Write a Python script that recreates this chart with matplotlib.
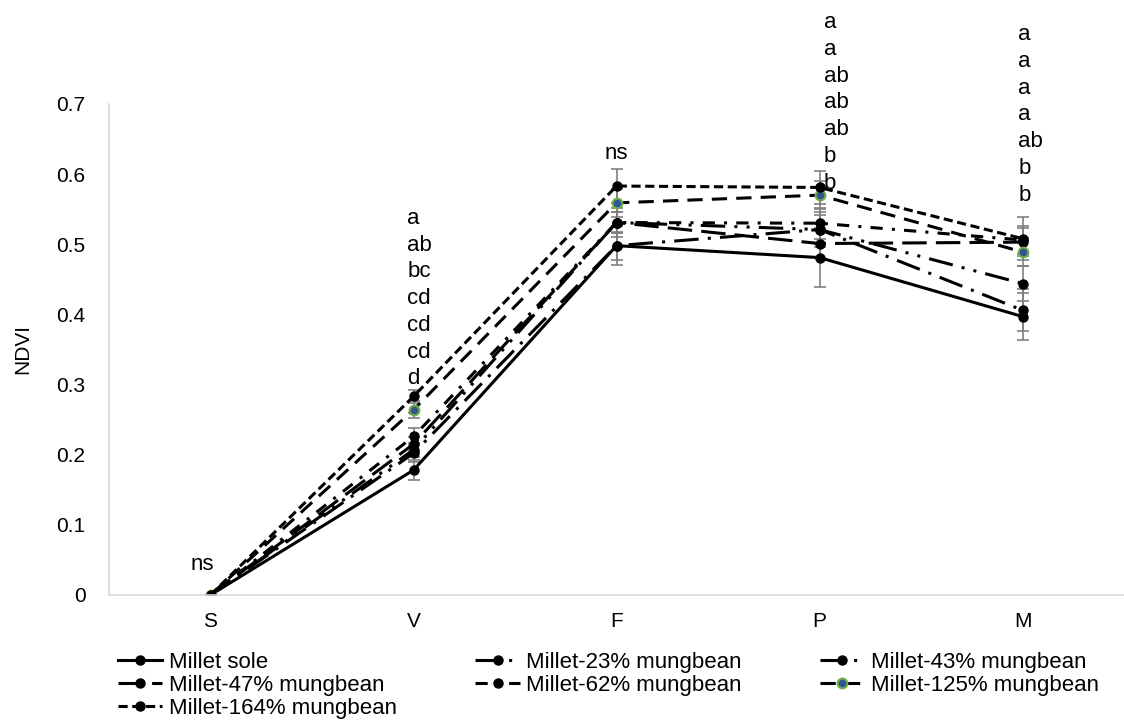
import numpy as np
import matplotlib.pyplot as plt

plt.rcParams['font.family'] = ['Liberation Sans', 'DejaVu Sans']

# growth stages
stages = ['S', 'V', 'F', 'P', 'M']

# NDVI means
sole = [0.0, 0.178, 0.498, 0.481, 0.397]
m23 = [0.0, 0.202, 0.498, 0.521, 0.406]
m43 = [0.0, 0.207, 0.531, 0.521, 0.444]
m47 = [0.0, 0.215, 0.531, 0.501, 0.503]
m62 = [0.0, 0.226, 0.531, 0.530, 0.506]
m125 = [0.0, 0.264, 0.559, 0.570, 0.489]
m164 = [0.0, 0.283, 0.583, 0.581, 0.508]

# error bar half-lengths
e_sole = [0.0, 0.014, 0.028, 0.042, 0.034]
e23 = [0.0, 0.012, 0.020, 0.020, 0.030]
e43 = [0.0, 0.010, 0.020, 0.025, 0.025]
e47 = [0.0, 0.010, 0.015, 0.020, 0.020]
e62 = [0.0, 0.012, 0.015, 0.022, 0.020]
e125 = [0.0, 0.012, 0.020, 0.020, 0.020]
e164 = [0.0, 0.009, 0.024, 0.023, 0.031]

labels = ['Millet sole', 'Millet-23% mungbean', 'Millet-43% mungbean',
          'Millet-47% mungbean', 'Millet-62% mungbean', 'Millet-125% mungbean',
          'Millet-164% mungbean']

# significance letters per stage (top to bottom)
letters_V = ['a', 'ab', 'bc', 'cd', 'cd', 'cd', 'd']
letters_P = ['a', 'a', 'ab', 'ab', 'ab', 'b', 'b']
letters_M = ['a', 'a', 'a', 'a', 'ab', 'b', 'b']

series = [sole, m23, m43, m47, m62, m125, m164]
errors = [e_sole, e23, e43, e47, e62, e125, e164]
styles = ['-',
          (0, (8, 3, 1, 3)),
          (0, (8, 3, 1, 3, 1, 3)),
          (0, (8, 3)),
          (0, (4, 3, 1, 3)),
          (0, (5, 3)),
          (0, (3, 1.5))]

fig = plt.figure(figsize=(11.24, 7.21), dpi=100)
ax = fig.add_axes([0.097, 0.1748, 0.903, 0.681])
x = np.arange(len(stages))

handles = []
for y, err, ls, lab in zip(series, errors, styles, labels):
    ax.errorbar(x, y, yerr=err, fmt='none', ecolor='#808080',
                elinewidth=1.2, capsize=4, capthick=1.2, zorder=1)
    if lab == 'Millet-125% mungbean':
        h, = ax.plot(x, y, linestyle=ls, color='black', lw=2.2, marker='o',
                     ms=7, mfc='#2f5597', mec='#70ad47', mew=1.5, label=lab,
                     zorder=2)
    else:
        h, = ax.plot(x, y, linestyle=ls, color='black', lw=2.2, marker='o',
                     ms=6.5, label=lab, zorder=2)
    handles.append(h)

# letters
def letter_column(xpos, ybottom, letters, ha='left'):
    ax.text(xpos, ybottom, '\n'.join(letters), ha=ha, va='bottom',
            fontsize=16, linespacing=1.36, clip_on=False)

letter_column(0.97, 0.293, letters_V)
letter_column(3.02, 0.572, letters_P)
letter_column(3.98, 0.555, letters_M)
ax.text(2, 0.615, 'ns', ha='center', va='bottom', fontsize=16)
ax.text(-0.04, 0.028, 'ns', ha='center', va='bottom', fontsize=16)

ax.set_xlim(-0.5, 4.5)
ax.set_ylim(0, 0.7)
ax.set_xticks(x)
ax.set_xticklabels(stages)
ax.set_yticks(np.arange(0, 0.71, 0.1))
ax.set_yticklabels(['0', '0.1', '0.2', '0.3', '0.4', '0.5', '0.6', '0.7'])
ax.tick_params(length=0, labelsize=15, pad=12)
ax.tick_params(axis='y', pad=17)
ax.set_ylabel('NDVI', fontsize=15, labelpad=17)
for side in ['top', 'right']:
    ax.spines[side].set_visible(False)
for side in ['left', 'bottom']:
    ax.spines[side].set_color('#d9d9d9')
    ax.spines[side].set_linewidth(1.2)

# legend filled row by row like the original
order = [0, 3, 6, 1, 4, 2, 5]
ax.legend([handles[i] for i in order], [labels[i] for i in order],
          loc='upper left', bbox_to_anchor=(0.105, 0.0, 0.873, 0.096),
          bbox_transform=fig.transFigure, ncol=3, mode='expand',
          frameon=False, fontsize=16, handlelength=2.0, handletextpad=0.3,
          labelspacing=0.1, borderpad=0, borderaxespad=0)

fig.savefig('out.png', dpi=100)
